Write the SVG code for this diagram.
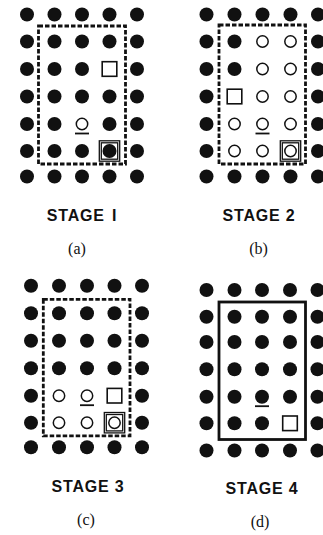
<svg xmlns="http://www.w3.org/2000/svg" xmlns:xlink="http://www.w3.org/1999/xlink" width="323" height="535" viewBox="0 0 323 535">
<style>
.stage{font-family:"Liberation Sans",Arial,sans-serif;font-weight:bold;font-size:16px;letter-spacing:0.8px;fill:#111;text-anchor:middle}
.lab{font-family:"Liberation Serif","Times New Roman",serif;font-weight:normal;font-size:16px;fill:#111;text-anchor:middle}
.frame{fill:none;stroke:#111;stroke-width:2.8}
.dash{stroke-dasharray:4.5 2}
</style>
<defs>
<circle id="dot" r="7" fill="#111"/>
<circle id="ring" r="5.7" fill="#fff" stroke="#111" stroke-width="1.5"/>
<rect id="sq" x="-7.3" y="-7.3" width="14.6" height="14.6" fill="#fff" stroke="#111" stroke-width="1.6"/>
<g id="dsq" fill="none" stroke="#111" stroke-width="1.3"><rect x="-10.2" y="-10.2" width="20.4" height="20.4"/><rect x="-8.2" y="-8.2" width="16.4" height="16.4"/></g>
<line id="ul" x1="-7" y1="9.5" x2="7" y2="9.5" stroke="#111" stroke-width="1.8"/>
</defs>
<rect width="323" height="535" fill="#fff"/>

<g id="panel-a">
<rect class="frame dash" x="38.5" y="26" width="87" height="138"/>
<use href="#dot" x="27" y="14.5"/><use href="#dot" x="54.5" y="14.5"/><use href="#dot" x="82" y="14.5"/><use href="#dot" x="109.5" y="14.5"/><use href="#dot" x="137" y="14.5"/>
<use href="#dot" x="27" y="41.5"/><use href="#dot" x="54.5" y="41.5"/><use href="#dot" x="82" y="41.5"/><use href="#dot" x="109.5" y="41.5"/><use href="#dot" x="137" y="41.5"/>
<use href="#dot" x="27" y="69"/><use href="#dot" x="54.5" y="69"/><use href="#dot" x="82" y="69"/><use href="#sq" x="109.5" y="69"/><use href="#dot" x="137" y="69"/>
<use href="#dot" x="27" y="96.5"/><use href="#dot" x="54.5" y="96.5"/><use href="#dot" x="82" y="96.5"/><use href="#dot" x="109.5" y="96.5"/><use href="#dot" x="137" y="96.5"/>
<use href="#dot" x="27" y="124"/><use href="#dot" x="54.5" y="124"/><use href="#ring" x="82" y="124"/><use href="#ul" x="82" y="124"/><use href="#dot" x="109.5" y="124"/><use href="#dot" x="137" y="124"/>
<use href="#dot" x="27" y="151"/><use href="#dot" x="54.5" y="151"/><use href="#dot" x="82" y="151"/><use href="#dsq" x="109.5" y="151"/><use href="#dot" x="109.5" y="151"/><use href="#dot" x="137" y="151"/>
<use href="#dot" x="27" y="176.5"/><use href="#dot" x="54.5" y="176.5"/><use href="#dot" x="82" y="176.5"/><use href="#dot" x="109.5" y="176.5"/><use href="#dot" x="137" y="176.5"/>
<text class="stage" x="82" y="221" word-spacing="2">STAGE I</text>
<text class="lab" x="77" y="254">(a)</text>
</g>

<g id="panel-b">
<rect class="frame dash" x="219" y="25" width="86.5" height="139"/>
<use href="#dot" x="206.5" y="14.5"/><use href="#dot" x="234.5" y="14.5"/><use href="#dot" x="262.5" y="14.5"/><use href="#dot" x="290.5" y="14.5"/><use href="#dot" x="318" y="14.5"/>
<use href="#dot" x="206.5" y="41.5"/><use href="#dot" x="234.5" y="41.5"/><use href="#ring" x="262.5" y="41.5"/><use href="#ring" x="290.5" y="41.5"/><use href="#dot" x="318" y="41.5"/>
<use href="#dot" x="206.5" y="69"/><use href="#dot" x="234.5" y="69"/><use href="#ring" x="262.5" y="69"/><use href="#ring" x="290.5" y="69"/><use href="#dot" x="318" y="69"/>
<use href="#dot" x="206.5" y="96.5"/><use href="#sq" x="234.5" y="96.5"/><use href="#ring" x="262.5" y="96.5"/><use href="#ring" x="290.5" y="96.5"/><use href="#dot" x="318" y="96.5"/>
<use href="#dot" x="206.5" y="124"/><use href="#ring" x="234.5" y="124"/><use href="#ring" x="262.5" y="124"/><use href="#ul" x="262.5" y="124"/><use href="#ring" x="290.5" y="124"/><use href="#dot" x="318" y="124"/>
<use href="#dot" x="206.5" y="151"/><use href="#ring" x="234.5" y="151"/><use href="#ring" x="262.5" y="151"/><use href="#dsq" x="290.5" y="151"/><use href="#ring" x="290.5" y="151"/><use href="#dot" x="318" y="151"/>
<use href="#dot" x="206.5" y="176.5"/><use href="#dot" x="234.5" y="176.5"/><use href="#dot" x="262.5" y="176.5"/><use href="#dot" x="290.5" y="176.5"/><use href="#dot" x="318" y="176.5"/>
<text class="stage" x="259" y="221">STAGE 2</text>
<text class="lab" x="258.5" y="254">(b)</text>
</g>

<g id="panel-c">
<rect class="frame dash" x="43.3" y="299.3" width="86.7" height="136.5"/>
<use href="#dot" x="31" y="285.7"/><use href="#dot" x="59" y="285.7"/><use href="#dot" x="87" y="285.7"/><use href="#dot" x="114.5" y="285.7"/><use href="#dot" x="142" y="285.7"/>
<use href="#dot" x="31" y="313.3"/><use href="#dot" x="59" y="313.3"/><use href="#dot" x="87" y="313.3"/><use href="#dot" x="114.5" y="313.3"/><use href="#dot" x="142" y="313.3"/>
<use href="#dot" x="31" y="340.7"/><use href="#dot" x="59" y="340.7"/><use href="#dot" x="87" y="340.7"/><use href="#dot" x="114.5" y="340.7"/><use href="#dot" x="142" y="340.7"/>
<use href="#dot" x="31" y="368.3"/><use href="#dot" x="59" y="368.3"/><use href="#dot" x="87" y="368.3"/><use href="#dot" x="114.5" y="368.3"/><use href="#dot" x="142" y="368.3"/>
<use href="#dot" x="31" y="395.7"/><use href="#ring" x="59" y="395.7"/><use href="#ring" x="87" y="395.7"/><use href="#ul" x="87" y="395.7"/><use href="#sq" x="114.5" y="395.7"/><use href="#dot" x="142" y="395.7"/>
<use href="#dot" x="31" y="422.7"/><use href="#ring" x="59" y="422.7"/><use href="#ring" x="87" y="422.7"/><use href="#dsq" x="114.5" y="422.7"/><use href="#ring" x="114.5" y="422.7"/><use href="#dot" x="142" y="422.7"/>
<use href="#dot" x="31" y="447.3"/><use href="#dot" x="59" y="447.3"/><use href="#dot" x="87" y="447.3"/><use href="#dot" x="114.5" y="447.3"/><use href="#dot" x="142" y="447.3"/>
<text class="stage" x="88" y="492">STAGE 3</text>
<text class="lab" x="86" y="525">(c)</text>
</g>

<g id="panel-d">
<rect class="frame" x="219" y="302" width="86.5" height="137.5"/>
<use href="#dot" x="206.5" y="290"/><use href="#dot" x="234.5" y="290"/><use href="#dot" x="262" y="290"/><use href="#dot" x="290" y="290"/><use href="#dot" x="317.5" y="290"/>
<use href="#dot" x="206.5" y="316.7"/><use href="#dot" x="234.5" y="316.7"/><use href="#dot" x="262" y="316.7"/><use href="#dot" x="290" y="316.7"/><use href="#dot" x="317.5" y="316.7"/>
<use href="#dot" x="206.5" y="342"/><use href="#dot" x="234.5" y="342"/><use href="#dot" x="262" y="342"/><use href="#dot" x="290" y="342"/><use href="#dot" x="317.5" y="342"/>
<use href="#dot" x="206.5" y="369.3"/><use href="#dot" x="234.5" y="369.3"/><use href="#dot" x="262" y="369.3"/><use href="#dot" x="290" y="369.3"/><use href="#dot" x="317.5" y="369.3"/>
<use href="#dot" x="206.5" y="396.7"/><use href="#dot" x="234.5" y="396.7"/><use href="#dot" x="262" y="396.7"/><use href="#ul" x="262" y="396.7"/><use href="#dot" x="290" y="396.7"/><use href="#dot" x="317.5" y="396.7"/>
<use href="#dot" x="206.5" y="423.3"/><use href="#dot" x="234.5" y="423.3"/><use href="#dot" x="262" y="423.3"/><use href="#sq" x="290" y="423.3"/><use href="#dot" x="317.5" y="423.3"/>
<use href="#dot" x="206.5" y="450.5"/><use href="#dot" x="234.5" y="450.5"/><use href="#dot" x="262" y="450.5"/><use href="#dot" x="290" y="450.5"/><use href="#dot" x="317.5" y="450.5"/>
<text class="stage" x="262" y="494">STAGE 4</text>
<text class="lab" x="260" y="527">(d)</text>
</g>

<g id="connectors"/>
</svg>
